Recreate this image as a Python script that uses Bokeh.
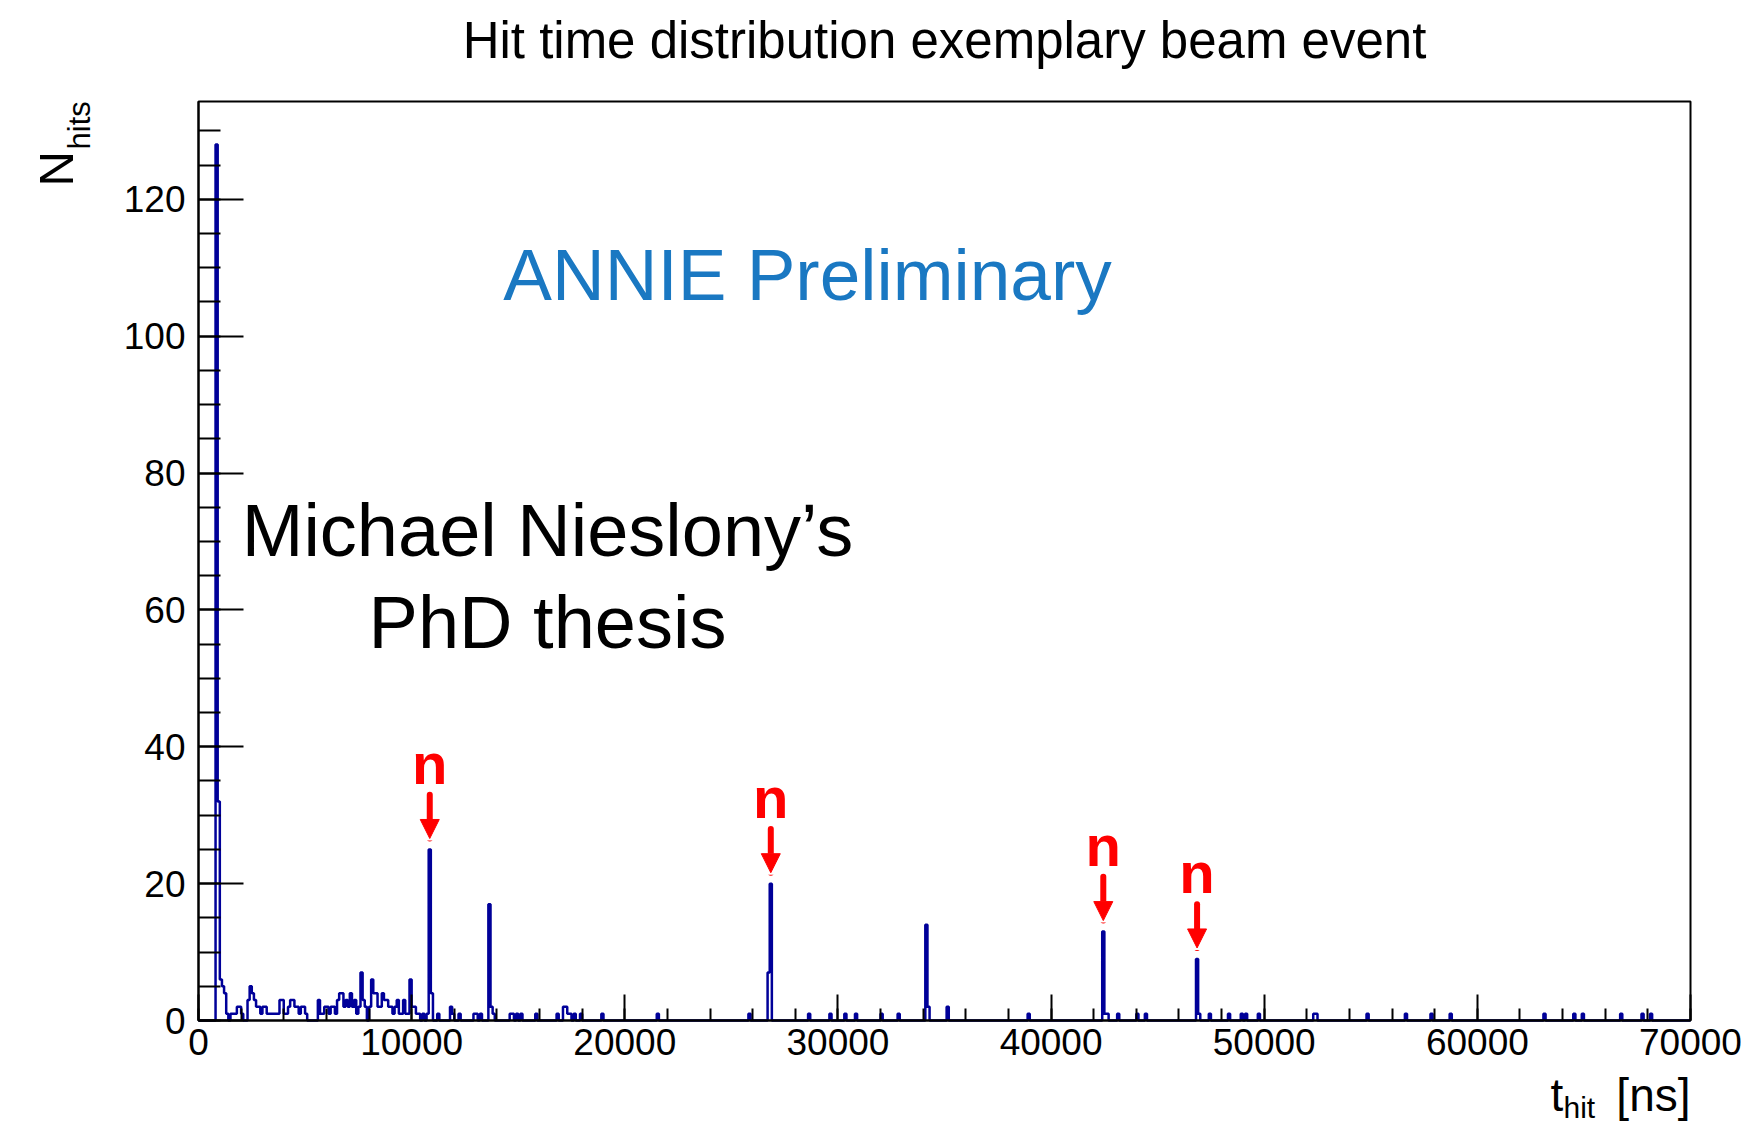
import numpy as np
from bokeh.plotting import figure
from bokeh.models import FixedTicker, Label, Arrow, NormalHead, Range1d, BoxAnnotation
from bokeh.embed import file_html
from bokeh.resources import INLINE

# ---------------- data ----------------
bin_width_ns = 100
t_min_ns, t_max_ns = 0, 70000
y_max = 134.3

# lower edges (ns) of the non-empty 100 ns bins and their hit counts
hit_bins_ns = [
    800, 900, 1000, 1100, 1200, 1300,
    1500, 1600, 1700, 1800, 1900, 2000, 2300, 2400, 2500, 2600, 2700, 2800, 2900,
    3000, 3100, 3200, 3300, 3400, 3500, 3600, 3700, 3800, 3900, 4000, 4100, 4200,
    4300, 4400, 4500, 4600, 4700, 4800, 4900, 5000,
    5600, 5700, 5800, 5900, 6000, 6100, 6200, 6300, 6400, 6500, 6600, 6700, 6800,
    6900, 7000, 7100, 7200, 7300, 7400, 7500, 7600, 7700, 7800, 8000, 8100, 8200,
    8300, 8400, 8500, 8600, 8700, 8800, 8900, 9000, 9100, 9200, 9300, 9400, 9500,
    9600, 9700, 9800, 9900, 10000, 10100, 10200, 10300, 10500, 10700, 10800, 10900,
    11200, 11800, 11900, 12200, 12900, 13000, 13200, 13600, 13700, 13800,
    14600, 14700, 14900, 15100, 15800, 16800, 17100, 17200, 17300, 17400, 17600,
    17900, 18900, 21500, 25800, 26700, 26800, 28600, 29600, 30300, 30800, 32000,
    32800, 34100, 34200, 35100, 38900, 42400, 42500, 42600, 43100, 44000, 44400,
    46800, 46900, 47400, 48300, 48900, 49100, 49700, 52300, 52400, 54800, 56600,
    57800, 58700, 63100, 64500, 64900, 66700, 67700, 68100,
]
hit_counts = [
    128, 32, 6, 5, 4, 1,
    1, 1, 1, 2, 2, 1, 3, 5, 4, 3, 2, 2, 1,
    2, 2, 1, 1, 1, 1, 1, 1, 3, 3, 1, 1, 2,
    3, 3, 2, 2, 1, 2, 2, 1,
    3, 1, 1, 2, 2, 1, 2, 2, 1, 3, 4, 4, 2,
    3, 2, 4, 2, 3, 1, 2, 7, 3, 2, 2, 6, 4,
    4, 2, 2, 4, 3, 3, 2, 2, 1, 2, 3, 1, 1,
    3, 1, 1, 6, 2, 2, 1, 1, 1, 1, 25, 4,
    1, 2, 1, 1, 1, 1, 1, 17, 2, 1,
    1, 1, 1, 1, 1, 1, 2, 2, 1, 1, 1,
    1, 1, 1, 1, 7, 20, 1, 1, 1, 1, 1,
    1, 14, 2, 2, 1, 13, 1, 1, 1, 1, 1,
    9, 1, 1, 1, 1, 1, 1, 1, 1, 1, 1,
    1, 1, 1, 1, 1, 1, 1, 1,
]
# bins marked as neutron candidates ("n")
neutron_bins_ns = [10800, 26800, 42400, 46800]

x_tick_values = [0, 10000, 20000, 30000, 40000, 50000, 60000, 70000]
x_tick_labels = ["0", "10000", "20000", "30000", "40000", "50000", "60000", "70000"]
x_minor_step = 2000
y_tick_values = [0, 20, 40, 60, 80, 100, 120]
y_tick_labels = ["0", "20", "40", "60", "80", "100", "120"]
y_minor_step = 5

title_text = "Hit time distribution exemplary beam event"

# ---------------- histogram ----------------
n_bins = (t_max_ns - t_min_ns) // bin_width_ns
counts = np.zeros(n_bins)
counts[np.array(hit_bins_ns) // bin_width_ns] = hit_counts
edges = np.arange(t_min_ns, t_max_ns + bin_width_ns, bin_width_ns)
step_y = np.append(counts, counts[-1])

# ---------------- layout (canvas pixels) ----------------
W, H = 1742, 1125
FRAME_L, FRAME_R, FRAME_T, FRAME_B = 198, 1690, 101, 1020
BASE_SHIFT = 0.35  # em correction for the text baseline placement


def px_x(X):
    return (X - FRAME_L) * (t_max_ns - t_min_ns) / (FRAME_R - FRAME_L)


def px_y(Y):
    return (FRAME_B - Y) * y_max / (FRAME_B - FRAME_T)


FONT = "Liberation Sans"
HIST_COLOR = "#000099"

p = figure(width=W, height=H,
           x_range=Range1d(px_x(0), px_x(W)), y_range=Range1d(px_y(H), px_y(0)),
           output_backend="svg", toolbar_location=None, min_border=0,
           min_border_left=0, min_border_right=0, min_border_top=0, min_border_bottom=0)
p.title.visible = False
p.grid.visible = False
p.background_fill_color = "white"
p.border_fill_color = "white"
p.outline_line_color = None

p.step(edges, step_y, mode="after", line_color=HIST_COLOR, line_width=2.5)

# frame box of the histogram
p.add_layout(BoxAnnotation(left=t_min_ns, right=t_max_ns, bottom=0, top=y_max,
                           fill_color=None, line_color="black", line_width=2,
                           line_alpha=1.0))

# axes (fixed at the frame edges)
p.xaxis.ticker = FixedTicker(ticks=x_tick_values,
                             minor_ticks=list(np.arange(t_min_ns, t_max_ns + 1, x_minor_step)))
p.xaxis.major_label_overrides = {v: l for v, l in zip(x_tick_values, x_tick_labels)}
p.yaxis.ticker = FixedTicker(ticks=y_tick_values,
                             minor_ticks=list(np.arange(0, y_max, y_minor_step)))
p.yaxis.major_label_overrides = {v: l for v, l in zip(y_tick_values, y_tick_labels)}
p.xaxis.fixed_location = 0
p.yaxis.fixed_location = t_min_ns
p.xaxis.bounds = (t_min_ns, t_max_ns)
p.yaxis.bounds = (0, y_max)

for ax in (p.xaxis[0], p.yaxis[0]):
    ax.axis_line_color = "black"
    ax.axis_line_width = 2
    ax.major_tick_out = 0
    ax.minor_tick_out = 0
    ax.major_tick_line_width = 2
    ax.minor_tick_line_width = 2
    ax.major_tick_line_color = "black"
    ax.minor_tick_line_color = "black"
    ax.major_label_text_font = FONT
    ax.major_label_text_font_size = "37px"
    ax.major_label_text_color = "black"

p.xaxis.major_tick_in = 26
p.xaxis.minor_tick_in = 12
p.xaxis.major_label_standoff = 8
p.yaxis.major_tick_in = 45
p.yaxis.minor_tick_in = 22
p.yaxis.major_label_standoff = 13


def text(X, Y, s, size, align="left", color="black", angle=0.0, style="normal"):
    """Place text with its baseline at canvas pixel (X, Y)."""
    d = BASE_SHIFT * size
    if angle:
        X -= d
    else:
        Y -= d
    p.add_layout(Label(x=px_x(X), y=px_y(Y), text=s, text_font=FONT,
                       text_font_size=f"{size}px", text_align=align,
                       text_baseline="alphabetic", text_color=color,
                       angle=angle, text_font_style=style))


# title
text(944, 58, title_text, 51, align="center")

# axis titles with subscripts
text(73, 186, "N", 49, angle=np.pi / 2)
text(90, 149, "hits", 31, angle=np.pi / 2)
text(1550, 1111, "t", 46)
text(1563, 1117, "hit", 30)
text(FRAME_R, 1111, "[ns]", 46, align="right")

# overlay texts
text(807, 300, "ANNIE Preliminary", 73, align="center", color="#1a78c2")
text(547, 556, "Michael Nieslony\u2019s", 74, align="center")
text(547, 648, "PhD thesis", 74, align="center")

# neutron markers
N_SIZE = 58
n_shift = BASE_SHIFT * N_SIZE * y_max / (FRAME_B - FRAME_T)
for t in neutron_bins_ns:
    v = counts[t // bin_width_ns]
    xc = t + bin_width_ns / 2
    p.add_layout(Arrow(x_start=xc, y_start=v + 8.0, x_end=xc, y_end=v + 1.6,
                       line_color="red", line_width=6, line_cap="round",
                       end=NormalHead(size=19, fill_color="red", line_color="red",
                                      line_width=1)))
    p.add_layout(Label(x=xc, y=v + 9.6 + n_shift, text="n", text_font=FONT,
                       text_font_size=f"{N_SIZE}px", text_font_style="bold",
                       text_align="center", text_baseline="alphabetic",
                       text_color="red"))

open("out.html", "w").write(file_html(p, INLINE))
